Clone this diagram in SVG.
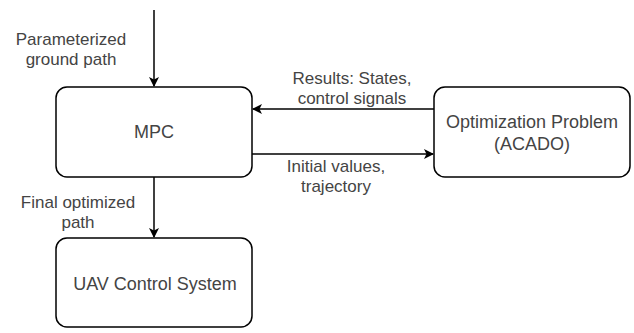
<svg xmlns="http://www.w3.org/2000/svg" width="634" height="333" viewBox="0 0 634 333">
<style>
.box{fill:#fff;stroke:#000;stroke-width:1.5}
.ln{fill:none;stroke:#000;stroke-width:1.5}
text{font-family:"Liberation Sans",Arial,sans-serif;font-size:18px;fill:#444;text-anchor:middle}
text.lbl{font-size:17px}
</style>
<defs>
<marker id="ah" markerWidth="10" markerHeight="10" refX="9" refY="5" orient="auto" markerUnits="userSpaceOnUse">
<path d="M0,0 L10,5 L0,10 L2.5,5 Z" fill="#000"/>
</marker>
</defs>
<rect width="634" height="333" fill="#fff"/>
<g id="connectors">
<line class="ln" x1="154" y1="10" x2="154" y2="86" marker-end="url(#ah)"/>
<line class="ln" x1="434" y1="109" x2="253" y2="109" marker-end="url(#ah)"/>
<line class="ln" x1="252" y1="154" x2="433" y2="154" marker-end="url(#ah)"/>
<line class="ln" x1="154" y1="177" x2="154" y2="237" marker-end="url(#ah)"/>
<text class="lbl" x="71" y="45">Parameterized</text>
<text class="lbl" x="71" y="65">ground path</text>
<text class="lbl" x="352" y="84">Results: States,</text>
<text class="lbl" x="352" y="104">control signals</text>
<text class="lbl" x="336" y="172">Initial values,</text>
<text class="lbl" x="336" y="192">trajectory</text>
<text class="lbl" x="78" y="208">Final optimized</text>
<text class="lbl" x="78" y="228">path</text>
</g>
<g id="mpc">
<rect class="box" x="56" y="87" width="196" height="90" rx="11"/>
<text x="154" y="138">MPC</text>
</g>
<g id="opt">
<rect class="box" x="434" y="87" width="196" height="90" rx="11"/>
<text x="532" y="128">Optimization Problem</text>
<text x="532" y="150">(ACADO)</text>
</g>
<g id="uav">
<rect class="box" x="56" y="238" width="196" height="89" rx="11"/>
<text x="155" y="290">UAV Control System</text>
</g>
</svg>
